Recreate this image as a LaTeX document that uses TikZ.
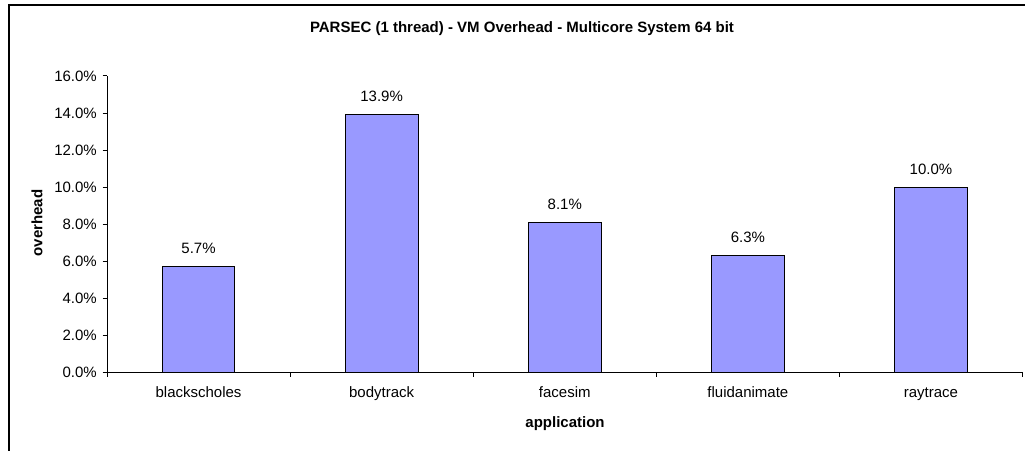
\documentclass[tikz,border=0pt]{standalone}
\usepackage{fontspec}
\setmainfont{Liberation Sans}
\definecolor{barfill}{HTML}{9999FF}
\begin{document}
\begin{tikzpicture}[x=1pt,y=-1pt,
  txt/.style={font=\fontsize{15}{17}\selectfont, inner sep=0pt},
  btxt/.style={font=\fontsize{15}{17}\selectfont\bfseries, inner sep=0pt},
  bar/.style={draw=black, line width=1pt, fill=barfill},
  axis/.style={line width=1pt, black}]
\useasboundingbox (0,0) rectangle (1025,450);
\fill[white] (0,0) rectangle (1025,450);
% frame
\draw[line width=2pt] (8.5,460) -- (8.5,4.5) -- (1030,4.5);
% title
\node[btxt, anchor=base] (title) at (522,32) {PARSEC (1 thread) - VM Overhead - Multicore System 64 bit};
% bars
\def\yz{372.3}\def\ys{18.52}
\foreach \i/\v/\n/\lab in {0/5.7/blackscholes/5.7\%,1/13.9/bodytrack/13.9\%,2/8.1/facesim/8.1\%,3/6.3/fluidanimate/6.3\%,4/10.0/raytrace/10.0\%}{
  \pgfmathsetmacro{\cx}{107+91.55+183.1*\i}
  \pgfmathsetmacro{\top}{\yz-\v*\ys}
  \draw[bar] (\cx-36.4,\yz) rectangle (\cx+36.4,\top);
  \node[txt, anchor=base] (v\i) at (\cx,\top-13) {\lab};
  \node[txt, anchor=base] (c\i) at (\cx,397.7) {\n};
}
% y axis ticks and labels
\foreach \k/\lab in {0/0.0,1/2.0,2/4.0,3/6.0,4/8.0,5/10.0,6/12.0,7/14.0,8/16.0}{
  \pgfmathsetmacro{\yy}{\yz-\k*2*\ys}
  \draw[axis] (102.5,\yy) -- (107,\yy);
  \node[txt, anchor=base east] (t\k) at (97,\yy+5.2) {\lab\%};
}
% x axis ticks
\foreach \k in {0,...,5}{
  \draw[axis] (107+183.1*\k,\yz) -- (107+183.1*\k,\yz+5);
}
\draw[axis] (107,76) -- (107,\yz) -- (1022.7,\yz);
% axis titles
\node[btxt, anchor=base] (xt) at (565,427) {application};
\node[btxt, rotate=90] (yt) at (37,223) {overhead};
\end{tikzpicture}
\end{document}
